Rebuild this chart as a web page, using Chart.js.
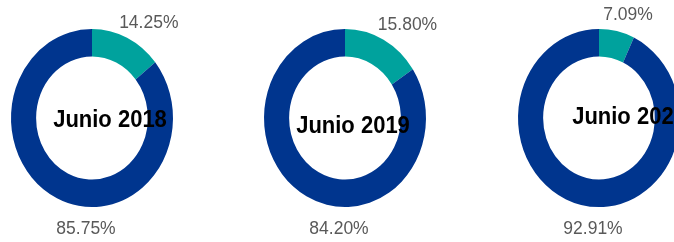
<!DOCTYPE html>
<html>
<head>
<meta charset="utf-8">
<script src="https://cdn.jsdelivr.net/npm/chart.js@4.4.1/dist/chart.umd.min.js"></script>
<style>
  html, body { margin: 0; padding: 0; background: #fff; }
  body { position: relative; width: 674px; height: 242px; overflow: hidden; }
  canvas { position: absolute; top: 0; }
</style>
</head>
<body>
<canvas id="donut-0" width="254" height="242"></canvas>
<canvas id="donut-1" width="254" height="242"></canvas>
<canvas id="donut-2" width="254" height="242"></canvas>
<script>
// ── Data ──
const periods    = ['Junio 2018', 'Junio 2019', 'Junio 2020'];
const segments   = ['Segmento A', 'Segmento B'];
const shareTeal  = [14.25, 15.80, 7.09];
const shareNavy  = [85.75, 84.20, 92.91];

// ── Layout (one panel per period) ──
const centersX    = [92, 345, 599];
const titleShift  = [[18, 2], [8, 8], [30, -1]];
const STRETCH_Y   = 1.1;   // rings are drawn slightly taller than wide
const COLORS      = ['#00A29D', '#00358E'];

// stretch only the arcs vertically around the ring centre
const stretchRing = {
    id: 'stretchRing',
    beforeDatasetsDraw(chart) {
        const arc = chart.getDatasetMeta(0).data[0];
        const ctx = chart.ctx;
        ctx.save();
        ctx.translate(arc.x, arc.y);
        ctx.scale(1, STRETCH_Y);
        ctx.translate(-arc.x, -arc.y);
    },
    afterDatasetsDraw(chart) {
        chart.ctx.restore();
    }
};

// percentage labels + centre title
const ringText = {
    id: 'ringText',
    afterDraw(chart, args, opts) {
        const ctx = chart.ctx;
        const arcs = chart.getDatasetMeta(0).data;
        const values = chart.data.datasets[0].data;
        const cx = arcs[0].x, cy = arcs[0].y;
        const rx = arcs[0].outerRadius, ry = rx * STRETCH_Y;

        ctx.save();
        ctx.fillStyle = '#595959';
        ctx.font = '17.5px "Liberation Sans", Arial, sans-serif';
        ctx.textAlign = 'center';
        ctx.textBaseline = 'middle';

        // first slice: outside, along its mid angle
        const a0 = (arcs[0].startAngle + arcs[0].endAngle) / 2;
        ctx.fillText(values[0].toFixed(2) + '%',
            cx + 1.62 * rx * Math.cos(a0),
            cy + 1.18 * ry * Math.sin(a0));

        // second slice: below the ring
        ctx.fillText(values[1].toFixed(2) + '%', cx - 6, cy + 1.25 * ry);

        // centre title
        ctx.fillStyle = '#000';
        ctx.font = 'bold 22px "Liberation Sans", Arial, sans-serif';
        ctx.translate(cx + opts.dx, cy + opts.dy);
        ctx.scale(1, 1.12);
        ctx.fillText(opts.title, 0, 0);
        ctx.restore();
    }
};

periods.forEach((period, i) => {
    const el = document.getElementById('donut-' + i);
    el.style.left = (centersX[i] - 127) + 'px';

    new Chart(el, {
        type: 'doughnut',
        data: {
            labels: segments,
            datasets: [{
                data: [shareTeal[i], shareNavy[i]],
                backgroundColor: COLORS,
                borderWidth: 0,
                hoverOffset: 0
            }]
        },
        options: {
            responsive: false,
            animation: false,
            cutout: '69%',
            layout: { padding: { left: 46, right: 46, top: 37, bottom: 43 } },
            events: [],
            plugins: {
                legend: { display: false },
                tooltip: { enabled: false },
                ringText: { title: period, dx: titleShift[i][0], dy: titleShift[i][1] }
            }
        },
        plugins: [stretchRing, ringText]
    });
});
</script>
</body>
</html>
